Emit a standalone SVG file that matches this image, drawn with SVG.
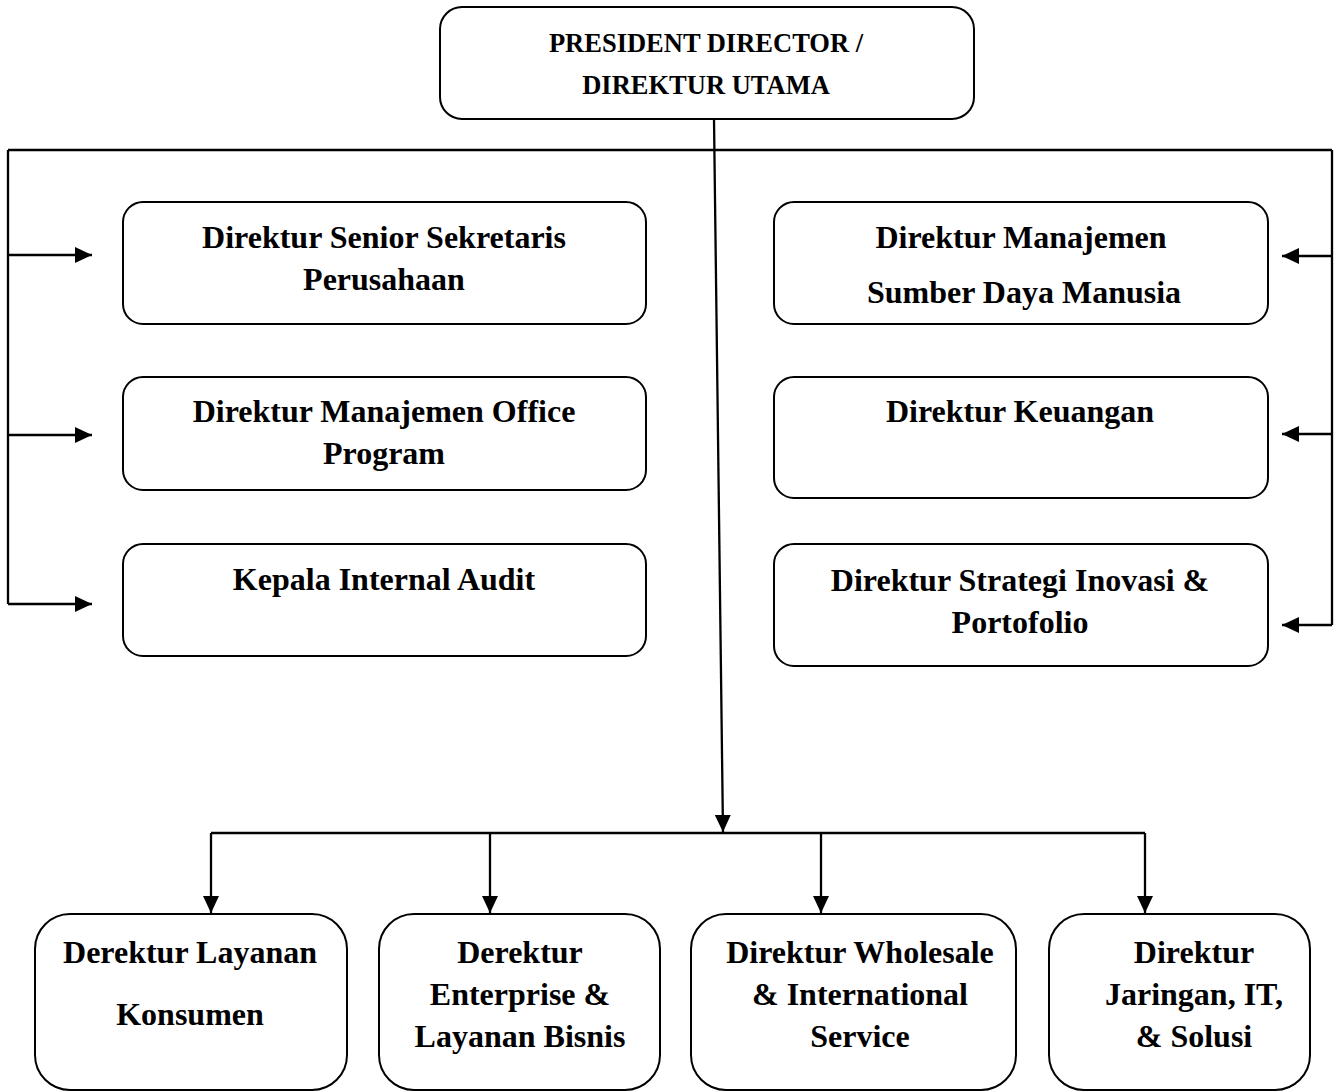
<svg xmlns="http://www.w3.org/2000/svg" width="1337" height="1091" viewBox="0 0 1337 1091">
<style>
.box{fill:#fff;stroke:#000;stroke-width:2}
.ln{fill:none;stroke:#000;stroke-width:2.3}
.t{font-family:"Liberation Serif","Times New Roman",serif;font-weight:bold;font-size:32px;text-anchor:middle;fill:#000}
.tt{font-size:26.5px}
</style>
<defs>
<marker id="ah" markerUnits="userSpaceOnUse" markerWidth="20" markerHeight="18" refX="17" refY="8" orient="auto">
<path d="M0,0 L17,8 L0,16 z" fill="#000"/>
</marker>
</defs>
<rect width="1337" height="1091" fill="#fff"/>
<g id="connectors">
<path class="ln" d="M8,150 H1332"/>
<path class="ln" d="M8,150 V604"/>
<path class="ln" d="M1332,150 V625"/>
<path class="ln" d="M8,255 H92" marker-end="url(#ah)"/>
<path class="ln" d="M8,435 H92" marker-end="url(#ah)"/>
<path class="ln" d="M8,604 H92" marker-end="url(#ah)"/>
<path class="ln" d="M1332,256 H1282" marker-end="url(#ah)"/>
<path class="ln" d="M1332,434 H1282" marker-end="url(#ah)"/>
<path class="ln" d="M1332,625 H1282" marker-end="url(#ah)"/>
<path class="ln" d="M714,119 L723,832" marker-end="url(#ah)"/>
<path class="ln" d="M211,833 H1145"/>
<path class="ln" d="M211,833 V913" marker-end="url(#ah)"/>
<path class="ln" d="M490,833 V913" marker-end="url(#ah)"/>
<path class="ln" d="M821,833 V913" marker-end="url(#ah)"/>
<path class="ln" d="M1145,833 V913" marker-end="url(#ah)"/>
</g>
<g id="president">
<rect class="box" x="440" y="7" width="534" height="112" rx="22"/>
<text class="t tt" x="706" y="52">PRESIDENT DIRECTOR /</text>
<text class="t tt" x="706" y="94">DIREKTUR UTAMA</text>
</g>
<g id="sekretaris">
<rect class="box" x="123" y="202" width="523" height="122" rx="20"/>
<text class="t" x="384" y="248">Direktur Senior Sekretaris</text>
<text class="t" x="384" y="290">Perusahaan</text>
</g>
<g id="office-program">
<rect class="box" x="123" y="377" width="523" height="113" rx="20"/>
<text class="t" x="384" y="422">Direktur Manajemen Office</text>
<text class="t" x="384" y="464">Program</text>
</g>
<g id="internal-audit">
<rect class="box" x="123" y="544" width="523" height="112" rx="20"/>
<text class="t" x="384" y="590">Kepala Internal Audit</text>
</g>
<g id="sdm">
<rect class="box" x="774" y="202" width="494" height="122" rx="20"/>
<text class="t" x="1021" y="248">Direktur Manajemen</text>
<text class="t" x="1024" y="303">Sumber Daya Manusia</text>
</g>
<g id="keuangan">
<rect class="box" x="774" y="377" width="494" height="121" rx="20"/>
<text class="t" x="1020" y="422">Direktur Keuangan</text>
</g>
<g id="strategi">
<rect class="box" x="774" y="544" width="494" height="122" rx="20"/>
<text class="t" x="1020" y="591">Direktur Strategi Inovasi &amp;</text>
<text class="t" x="1020" y="633">Portofolio</text>
</g>
<g id="konsumen">
<rect class="box" x="35" y="914" width="312" height="176" rx="35"/>
<text class="t" x="190" y="963">Derektur Layanan</text>
<text class="t" x="190" y="1025">Konsumen</text>
</g>
<g id="enterprise">
<rect class="box" x="379" y="914" width="281" height="176" rx="35"/>
<text class="t" x="520" y="963">Derektur</text>
<text class="t" x="520" y="1005">Enterprise &amp;</text>
<text class="t" x="520" y="1047">Layanan Bisnis</text>
</g>
<g id="wholesale">
<rect class="box" x="691" y="914" width="325" height="176" rx="35"/>
<text class="t" x="860" y="963">Direktur Wholesale</text>
<text class="t" x="860" y="1005">&amp; International</text>
<text class="t" x="860" y="1047">Service</text>
</g>
<g id="jaringan">
<rect class="box" x="1049" y="914" width="261" height="176" rx="35"/>
<text class="t" x="1194" y="963">Direktur</text>
<text class="t" x="1194" y="1005">Jaringan, IT,</text>
<text class="t" x="1194" y="1047">&amp; Solusi</text>
</g>
</svg>
